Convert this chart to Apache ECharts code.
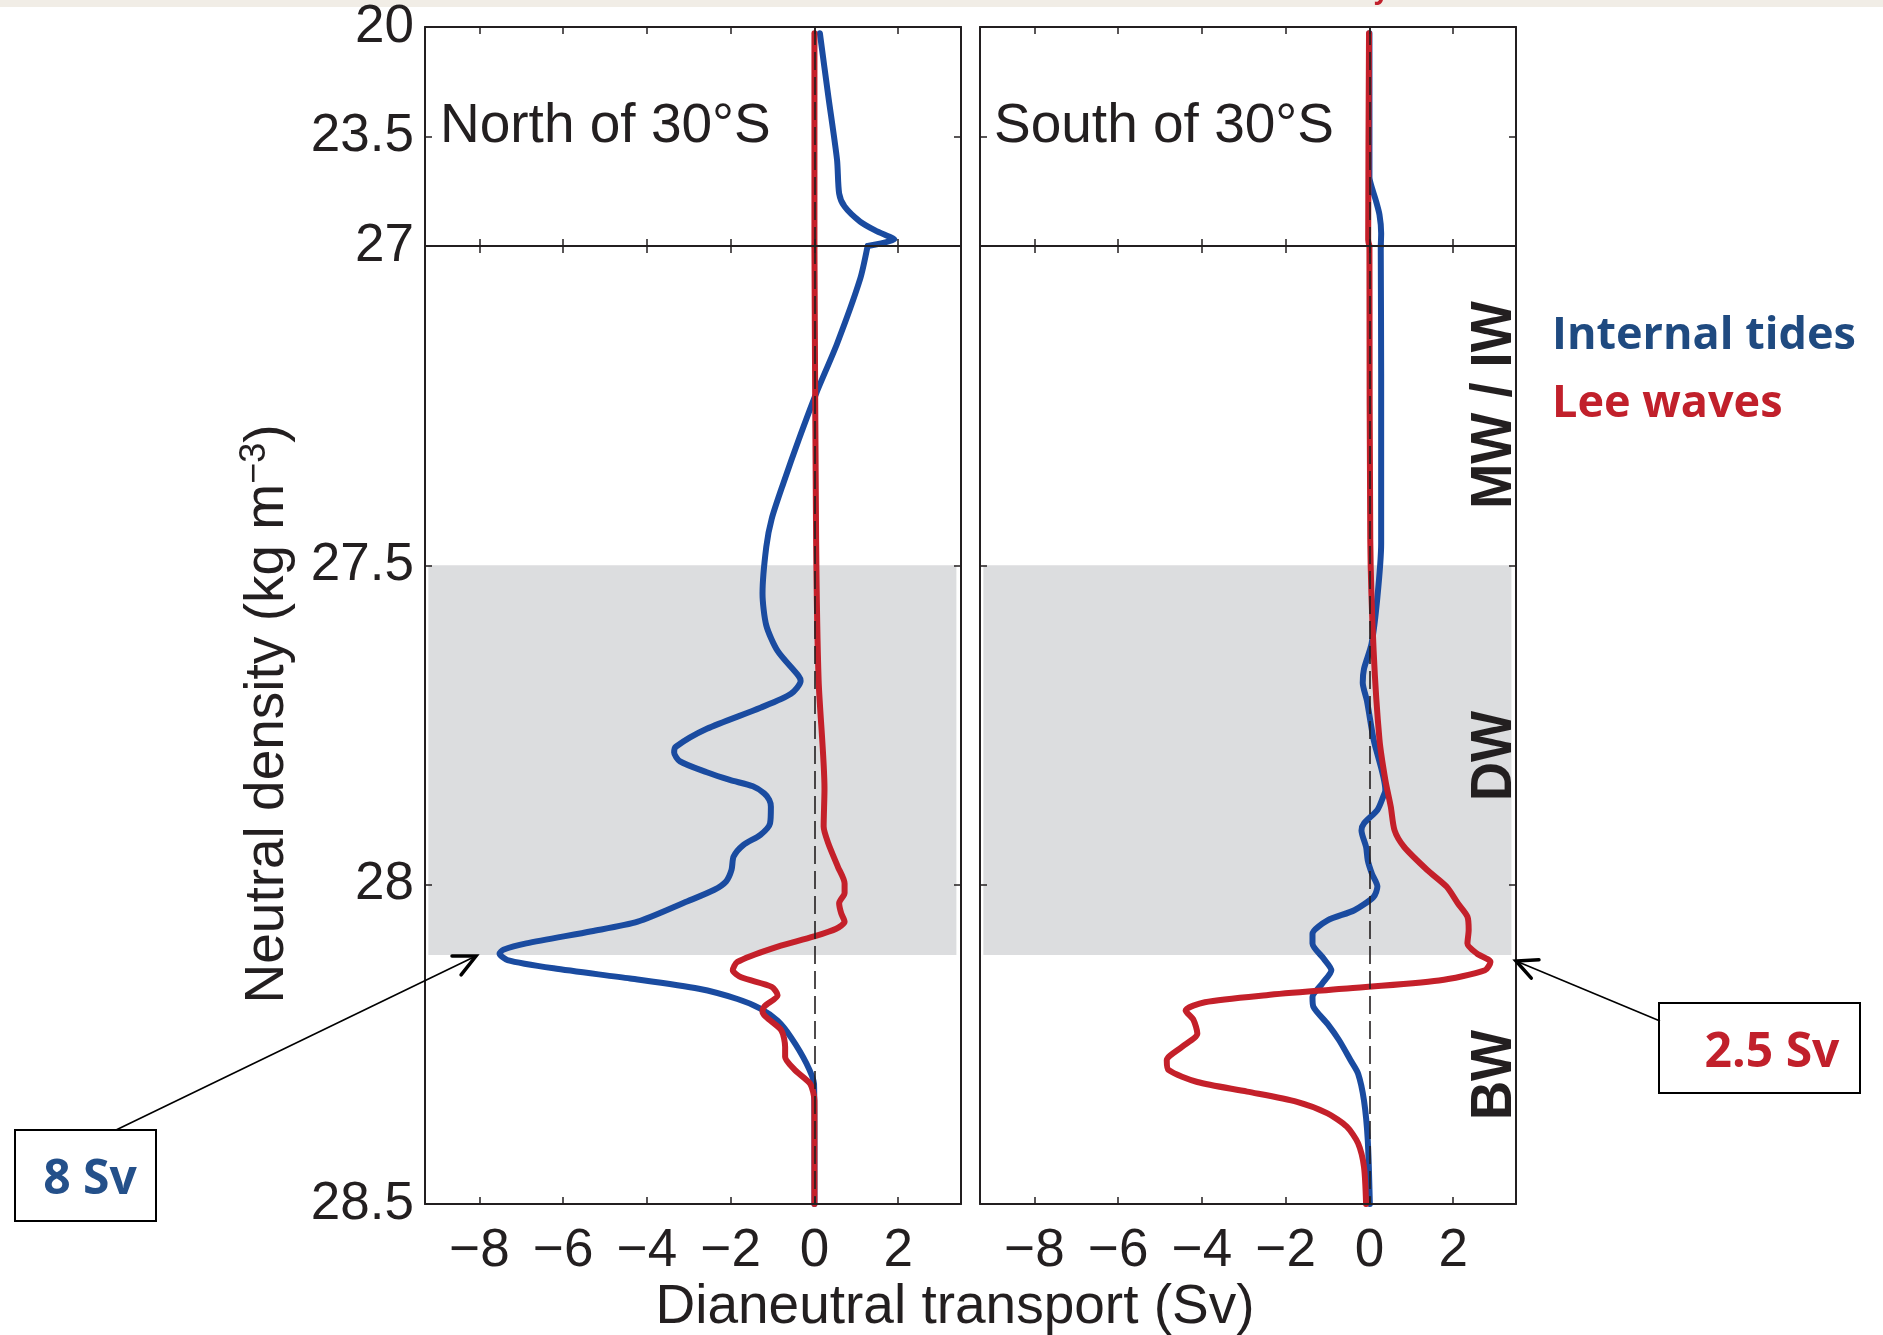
<!DOCTYPE html>
<html><head><meta charset="utf-8">
<script src="https://cdn.jsdelivr.net/npm/echarts@6/dist/echarts.min.js"></script>
<style>html,body{margin:0;padding:0;background:#fff}#c{width:1883px;height:1335px}</style>
</head><body><div id="c"></div>
<script>
// ---------- data ----------
const xTickValues = [-8, -6, -4, -2, 0, 2];
const topDensityTicks = [20, 23.5, 27];
const bottomDensityLabels = [27.5, 28, 28.5];
const bottomDensityTicks = [27.5, 28];
const panelTitles = ['North of 30°S', 'South of 30°S'];
const seriesNames = ['Internal tides', 'Lee waves'];
const waterMasses = ['MW / IW', 'DW', 'BW'];
const deepBand = [27.5, 28.11];

const northTidesDensity = [20.2, 22.2, 24.25, 25.32, 25.74, 26.22, 26.5, 26.72, 26.79, 27.0, 27.052, 27.153, 27.231, 27.304, 27.371, 27.427, 27.471, 27.544, 27.594, 27.634, 27.673, 27.681, 27.701, 27.723, 27.756, 27.784, 27.793, 27.807, 27.824, 27.836, 27.846, 27.857, 27.867, 27.878, 27.904, 27.922, 27.938, 27.956, 27.977, 27.995, 28.008, 28.026, 28.058, 28.073, 28.092, 28.102, 28.108, 28.118, 28.131, 28.147, 28.163, 28.179, 28.194, 28.213, 28.239, 28.28, 28.312, 28.4, 28.5];
const northTidesTransport = [0.13, 0.33, 0.54, 0.59, 0.72, 1.09, 1.45, 1.82, 1.91, 1.27, 1.09, 0.54, 0.04, -0.38, -0.74, -1.02, -1.15, -1.24, -1.15, -0.88, -0.38, -0.33, -0.56, -1.29, -2.57, -3.31, -3.35, -3.21, -2.57, -2.02, -1.47, -1.20, -1.08, -1.04, -1.06, -1.29, -1.70, -1.93, -1.98, -2.11, -2.39, -3.03, -4.22, -5.32, -6.88, -7.43, -7.52, -7.33, -6.23, -4.40, -2.76, -1.84, -1.29, -0.88, -0.56, -0.19, -0.01, 0.0, 0.0];

const northLeeDensity = [20.2, 23.5, 27.0, 27.46, 27.68, 27.85, 27.909, 27.935, 27.972, 27.998, 28.013, 28.029, 28.045, 28.058, 28.069, 28.081, 28.1, 28.121, 28.134, 28.145, 28.16, 28.173, 28.191, 28.199, 28.228, 28.254, 28.27, 28.29, 28.312, 28.338, 28.42, 28.5];
const northLeeTransport = [0.0, 0.0, 0.0, 0.04, 0.10, 0.24, 0.22, 0.33, 0.56, 0.72, 0.72, 0.59, 0.64, 0.72, 0.52, -0.01, -1.02, -1.84, -1.95, -1.75, -1.02, -0.88, -1.20, -1.24, -0.79, -0.70, -0.70, -0.47, -0.10, 0.0, 0.0, 0.0];

const southTidesDensity = [20.2, 24.8, 25.1, 25.53, 26.0, 26.59, 27.0, 27.2, 27.466, 27.55, 27.623, 27.662, 27.684, 27.712, 27.773, 27.852, 27.862, 27.883, 27.904, 27.915, 27.941, 27.962, 27.983, 28.003, 28.019, 28.04, 28.056, 28.077, 28.092, 28.116, 28.134, 28.155, 28.176, 28.191, 28.218, 28.244, 28.275, 28.296, 28.338, 28.4, 28.5];
const southTidesTransport = [0.0, 0.0, 0.05, 0.15, 0.24, 0.28, 0.27, 0.28, 0.28, 0.19, 0.05, -0.13, -0.16, -0.06, 0.10, 0.38, 0.33, 0.19, -0.13, -0.19, -0.08, -0.04, 0.06, 0.19, 0.10, -0.36, -1.0, -1.36, -1.36, -1.09, -0.91, -1.13, -1.36, -1.34, -1.0, -0.72, -0.45, -0.27, -0.13, -0.04, 0.01];

const southLeeDensity = [20.2, 26.8, 27.0, 27.46, 27.634, 27.773, 27.836, 27.878, 27.915, 27.941, 27.977, 28.003, 28.029, 28.05, 28.071, 28.092, 28.108, 28.121, 28.134, 28.15, 28.163, 28.173, 28.184, 28.197, 28.212, 28.233, 28.254, 28.275, 28.29, 28.309, 28.324, 28.34, 28.358, 28.379, 28.405, 28.442, 28.5];
const southLeeTransport = [-0.01, -0.03, 0.0, 0.02, 0.10, 0.24, 0.38, 0.51, 0.60, 0.83, 1.38, 1.84, 2.11, 2.34, 2.37, 2.34, 2.57, 2.89, 2.76, 1.66, -0.63, -2.46, -3.93, -4.39, -4.20, -4.11, -4.48, -4.84, -4.80, -4.11, -2.92, -1.73, -1.00, -0.54, -0.27, -0.13, -0.08];

const annotationTexts = ['8 Sv', '2.5 Sv'];

// ---------- styling ----------
const ink = '#231f20';
const blue = '#1a4ba0';
const red = '#c4202a';
const legendBlue = '#1f4a80';
const legendRed = '#c1202b';
const grayBand = '#dcdddf';
const sans = '"Liberation Sans", Arial, Helvetica, sans-serif';
const bold = '"Open Sans", "Noto Sans", sans-serif';

function fmt(v) { return v < 0 ? '\u2212' + Math.abs(v) : String(v); }

function split(dens, trans) {
  const top = [], bottom = [];
  for (let i = 0; i < dens.length; i++) {
    if (dens[i] <= 27) top.push([trans[i], dens[i]]);
    if (dens[i] >= 27) bottom.push([trans[i], dens[i]]);
  }
  return { top, bottom };
}

const XMIN = -9.3, XMAX = 3.5;
const grids = [
  { left: 425, top: 27, width: 536, height: 219 },
  { left: 425, top: 246, width: 536, height: 958 },
  { left: 980, top: 27, width: 536, height: 219 },
  { left: 980, top: 246, width: 536, height: 958 }
];

const xAxes = [], yAxes = [];
grids.forEach((g, gi) => {
  const isBottom = gi % 2 === 1;
  ['bottom', 'top'].forEach(pos => {
    xAxes.push({
      type: 'value', gridIndex: gi, position: pos, min: XMIN, max: XMAX, z: 6,
      axisLine: { show: true, onZero: false, lineStyle: { color: ink, width: 2 } },
      axisTick: { show: true, inside: true, length: 7, customValues: xTickValues, lineStyle: { color: ink, width: 1.5 } },
      axisLabel: { show: isBottom && pos === 'bottom', customValues: xTickValues, formatter: fmt, fontSize: 53, color: ink, fontFamily: sans, margin: 21 },
      splitLine: { show: false }
    });
  });
  ['left', 'right'].forEach(pos => {
    const showLab = gi < 2 && pos === 'left';
    yAxes.push({
      type: 'value', gridIndex: gi, position: pos, inverse: true, z: 6,
      min: isBottom ? 27 : 20, max: isBottom ? 28.5 : 27,
      axisLine: { show: true, onZero: false, lineStyle: { color: ink, width: 2 } },
      axisTick: { show: true, inside: true, length: 7, customValues: isBottom ? bottomDensityTicks : topDensityTicks, lineStyle: { color: ink, width: 1.5 } },
      axisLabel: { show: showLab, customValues: isBottom ? bottomDensityLabels : topDensityTicks, fontSize: 53, color: ink, fontFamily: sans, margin: 11 },
      splitLine: { show: false }
    });
  });
});

const panels = [
  { tides: split(northTidesDensity, northTidesTransport), lee: split(northLeeDensity, northLeeTransport) },
  { tides: split(southTidesDensity, southTidesTransport), lee: split(southLeeDensity, southLeeTransport) }
];

const series = [];
panels.forEach((p, pi) => {
  ['top', 'bottom'].forEach((part, k) => {
    const gi = pi * 2 + k;
    const xi = gi * 2, yi = gi * 2;
    if (part === 'bottom') {
      series.push({
        type: 'line', xAxisIndex: xi, yAxisIndex: yi, data: [], z: 1, silent: true,
        markArea: { silent: true, itemStyle: { color: grayBand }, data: [[{ xAxis: -9.22, yAxis: deepBand[0] }, { xAxis: 3.39, yAxis: deepBand[1] }]] }
      });
    }
    series.push({
      name: seriesNames[0], type: 'line', xAxisIndex: xi, yAxisIndex: yi, data: p.tides[part],
      showSymbol: false, smooth: 0.25, z: 3, lineStyle: { color: blue, width: 6, cap: 'round', join: 'round' }
    });
    series.push({
      name: seriesNames[1], type: 'line', xAxisIndex: xi, yAxisIndex: yi, data: p.lee[part],
      showSymbol: false, smooth: 0.25, z: 4, lineStyle: { color: red, width: 6, cap: 'round', join: 'round' }
    });
    series.push({
      type: 'line', xAxisIndex: xi, yAxisIndex: yi, data: [], z: 5, silent: true,
      markLine: { silent: true, symbol: ['none', 'none'], label: { show: false },
        lineStyle: { color: ink, width: 1.6, type: [18, 7] }, data: [{ xAxis: 0 }] }
    });
  });
});

// arrow helper
function arrow(tail, tip, len, spread) {
  const ang = Math.atan2(tail[1] - tip[1], tail[0] - tip[0]);
  const b1 = [tip[0] + len * Math.cos(ang + spread), tip[1] + len * Math.sin(ang + spread)];
  const b2 = [tip[0] + len * Math.cos(ang - spread), tip[1] + len * Math.sin(ang - spread)];
  return [
    { type: 'line', shape: { x1: tail[0], y1: tail[1], x2: tip[0], y2: tip[1] }, style: { stroke: '#000', lineWidth: 1.6 }, z: 20 },
    { type: 'polyline', shape: { points: [b1, tip, b2] }, style: { stroke: '#000', lineWidth: 3.5, fill: null, lineCap: 'round', lineJoin: 'miter' }, z: 20 }
  ];
}

const graphic = [
  { type: 'rect', shape: { x: 0, y: 0, width: 1883, height: 7 }, style: { fill: '#f1ede6' }, z: 1 },
  { type: 'text', x: 1374, y: 5, style: { text: 'y', font: 'bold 26px ' + bold, fill: legendRed, textAlign: 'left', textVerticalAlign: 'bottom' }, z: 2 },
  { type: 'text', x: 440, y: 127, style: { text: panelTitles[0], font: '55px ' + sans, fill: ink, textAlign: 'left', textVerticalAlign: 'middle' }, z: 10 },
  { type: 'text', x: 994, y: 127, style: { text: panelTitles[1], font: '55px ' + sans, fill: ink, textAlign: 'left', textVerticalAlign: 'middle' }, z: 10 },
  { type: 'text', x: 955, y: 1308, style: { text: 'Dianeutral transport (Sv)', font: '55px ' + sans, fill: ink, textAlign: 'center', textVerticalAlign: 'middle' }, z: 10 },
  { type: 'text', x: 268, y: 714, rotation: Math.PI / 2,
    style: { text: '{a|Neutral density (kg m}{s|\u22123}{a|)}', textAlign: 'center', textVerticalAlign: 'middle',
      rich: { a: { fontSize: 55, fontFamily: sans, fill: ink, lineHeight: 62 }, s: { fontSize: 36, fontFamily: sans, fill: ink, lineHeight: 62, verticalAlign: 'top' } } }, z: 10 },
  { type: 'text', x: 1495, y: 405, rotation: Math.PI / 2, scaleX: 0.95, style: { text: waterMasses[0], font: 'bold 57px ' + sans, fill: ink, textAlign: 'center', textVerticalAlign: 'middle' }, z: 10 },
  { type: 'text', x: 1495, y: 756, rotation: Math.PI / 2, scaleX: 0.95, style: { text: waterMasses[1], font: 'bold 57px ' + sans, fill: ink, textAlign: 'center', textVerticalAlign: 'middle' }, z: 10 },
  { type: 'text', x: 1495, y: 1075, rotation: Math.PI / 2, scaleX: 0.95, style: { text: waterMasses[2], font: 'bold 57px ' + sans, fill: ink, textAlign: 'center', textVerticalAlign: 'middle' }, z: 10 },
  { type: 'text', x: 1552, y: 336, style: { text: seriesNames[0], font: 'bold 45px ' + bold, fill: legendBlue, textAlign: 'left', textVerticalAlign: 'middle' }, z: 10 },
  { type: 'text', x: 1552, y: 404, style: { text: seriesNames[1], font: 'bold 45px ' + bold, fill: legendRed, textAlign: 'left', textVerticalAlign: 'middle' }, z: 10 },
  { type: 'rect', shape: { x: 15, y: 1130, width: 141, height: 91 }, style: { fill: '#fff', stroke: '#000', lineWidth: 2 }, z: 19 },
  { type: 'text', x: 90, y: 1180, style: { text: annotationTexts[0], font: 'bold 48px ' + bold, fill: '#24508a', textAlign: 'center', textVerticalAlign: 'middle' }, z: 21 },
  { type: 'rect', shape: { x: 1659, y: 1003, width: 201, height: 90 }, style: { fill: '#fff', stroke: '#000', lineWidth: 2 }, z: 19 },
  { type: 'text', x: 1772, y: 1053, style: { text: annotationTexts[1], font: 'bold 48px ' + bold, fill: legendRed, textAlign: 'center', textVerticalAlign: 'middle' }, z: 21 }
].concat(arrow([116, 1130], [476, 956], 24, 0.45), arrow([1660, 1021], [1516, 961], 23, 0.45));

const chart = echarts.init(document.getElementById('c'), null, { renderer: 'canvas' });
chart.setOption({
  animation: false,
  backgroundColor: '#ffffff',
  grid: grids.map(g => Object.assign({ containLabel: false, show: false }, g)),
  xAxis: xAxes,
  yAxis: yAxes,
  series: series,
  graphic: graphic
});
</script></body></html>
